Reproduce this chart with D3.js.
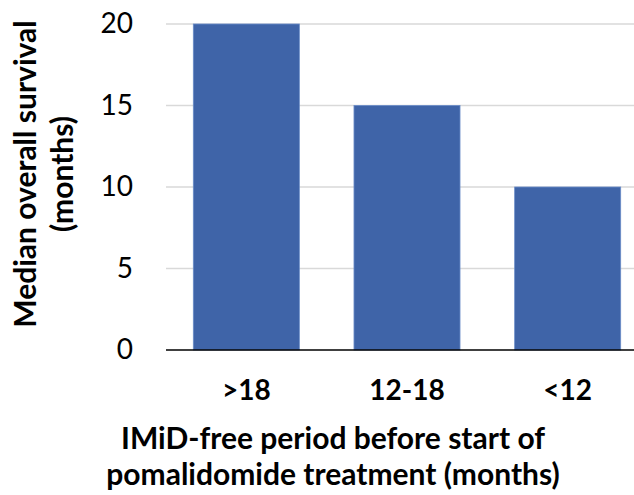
<!DOCTYPE html>
<html><head><meta charset="utf-8">
<script src="https://cdn.jsdelivr.net/npm/d3@7"></script>
<style>body{margin:0;background:#fff;} svg{display:block;} text{font-family:Lato,"Open Sans",sans-serif;fill:#000;}</style>
</head><body>
<svg id="c" width="634" height="495"></svg>
<script>
const categories = [">18", "12-18", "<12"];
const values = [20, 15, 10];
const yTicks = [0, 5, 10, 15, 20];
const yTitle = ["Median overall survival", "(months)"];
const xTitle = ["IMiD-free period before start of", "pomalidomide treatment (months)"];

const svg = d3.select("#c");
const mLeft = 166, mRight = 648, mTop = 24, mBottom = 350;
const x = d3.scaleBand().domain(categories).range([mLeft, mRight]).paddingInner(0.34).paddingOuter(0.17);
const y = d3.scaleLinear().domain([0, 20]).range([mBottom, mTop]);

// gridlines
svg.append("g").selectAll("line").data(yTicks.filter(d => d > 0)).join("line")
  .attr("x1", mLeft).attr("x2", mRight)
  .attr("y1", d => y(d)).attr("y2", d => y(d))
  .attr("stroke", "#d9d9d9").attr("stroke-width", 1.5);

// bars
svg.append("g").selectAll("rect").data(values).join("rect")
  .attr("x", (d, i) => x(categories[i]))
  .attr("width", x.bandwidth())
  .attr("y", d => y(d))
  .attr("height", d => y(0) - y(d))
  .attr("fill", "#3f64a8")
  .attr("stroke", "#6a8cc8").attr("stroke-width", 0.8);

// x axis line
svg.append("line").attr("x1", mLeft).attr("x2", mRight).attr("y1", y(0)).attr("y2", y(0))
  .attr("stroke", "#000").attr("stroke-width", 1.5);

// y tick labels
const yAxis = d3.axisLeft(y).tickValues(yTicks).tickSize(0).tickPadding(33);
const ga = svg.append("g").attr("transform", `translate(${mLeft},0)`).call(yAxis);
ga.select(".domain").remove();
ga.selectAll("text").attr("font-size", 28).attr("font-family", "Lato,'Open Sans',sans-serif").attr("fill", "#000");

// x tick labels
const xAxis = d3.axisBottom(x).tickSize(0).tickPadding(30);
const gx = svg.append("g").attr("transform", `translate(0,${mBottom})`).call(xAxis);
gx.select(".domain").remove();
gx.selectAll("text").attr("font-size", 28).attr("font-weight", "bold").attr("font-family", "Lato,'Open Sans',sans-serif").attr("fill", "#000");

// y title
const yt = svg.append("text").attr("transform", "translate(0,174) rotate(-90)")
  .attr("text-anchor", "middle").attr("font-size", 30).attr("font-weight", "bold");
yTitle.forEach((t, i) => yt.append("tspan").attr("x", 0).attr("y", 36 + i * 37).text(t));

// x title
const xt = svg.append("text").attr("text-anchor", "middle").attr("font-size", 30).attr("font-weight", "bold");
xTitle.forEach((t, i) => xt.append("tspan").attr("x", 333).attr("y", 449 + i * 36).text(t));
</script>
</body></html>
